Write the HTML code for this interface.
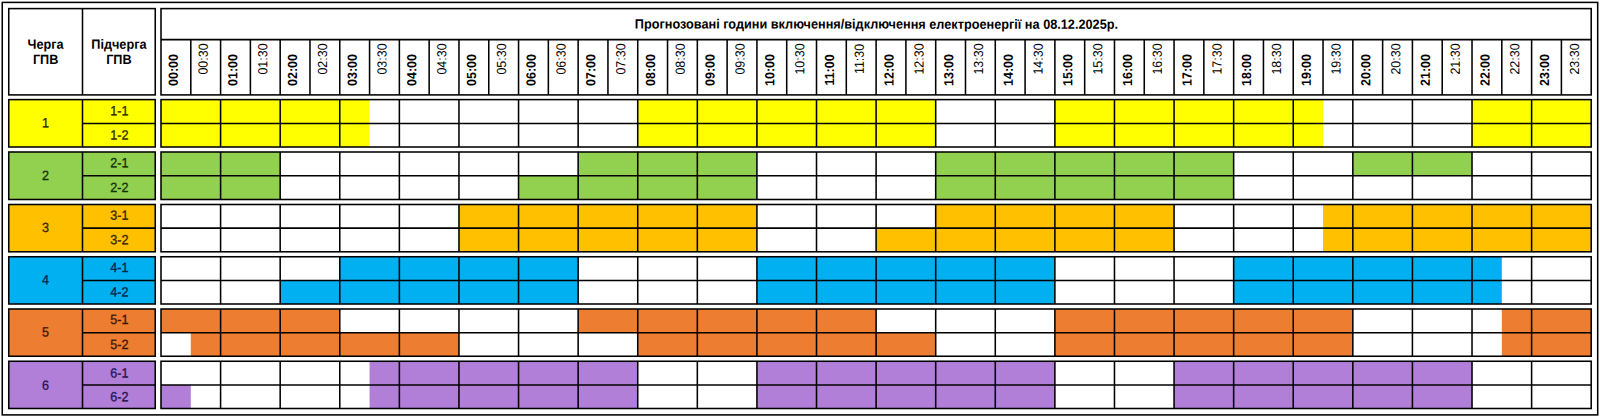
<!DOCTYPE html><html><head><meta charset="utf-8"><title>ГПВ</title>
<style>html,body{margin:0;padding:0;background:#fff;overflow:hidden}svg{display:block}text{font-family:"Liberation Sans",Arial,sans-serif;font-size:13.33px;fill:#000}.b{font-weight:bold}.g{fill:#000}.r{font-size:13.2px}.n{stroke:#000;stroke-width:.3px}</style></head><body>
<svg width="1600" height="420" viewBox="0 0 1600 420">
<rect x="0" y="0" width="1600" height="420" fill="#fff"/>
<rect x="2.25" y="2.40" width="1595.45" height="412.50" fill="none" stroke="#000" stroke-width="1.55"/>
<rect x="8.75" y="8.60" width="146.50" height="86.30" fill="#fff" stroke="#000" stroke-width="1.55"/>
<line x1="82.50" y1="8.60" x2="82.50" y2="94.90" stroke="#000" stroke-width="1.55"/>
<text transform="translate(45.62 48.70) rotate(0.05) scale(0.953 1)" text-anchor="middle" class="b">Черга</text>
<text transform="translate(45.62 64.00) rotate(0.05) scale(0.953 1)" text-anchor="middle" class="b">ГПВ</text>
<text transform="translate(118.88 48.70) rotate(0.05) scale(0.953 1)" text-anchor="middle" class="b">Підчерга</text>
<text transform="translate(118.88 64.00) rotate(0.05) scale(0.953 1)" text-anchor="middle" class="b">ГПВ</text>
<rect x="161.00" y="8.60" width="1430.20" height="86.30" fill="#fff" stroke="#000" stroke-width="1.55"/>
<line x1="161.00" y1="39.60" x2="1591.20" y2="39.60" stroke="#000" stroke-width="1.55"/>
<line x1="190.80" y1="39.60" x2="190.80" y2="94.90" stroke="#000" stroke-width="1.55"/>
<line x1="220.59" y1="39.60" x2="220.59" y2="94.90" stroke="#000" stroke-width="1.55"/>
<line x1="250.39" y1="39.60" x2="250.39" y2="94.90" stroke="#000" stroke-width="1.55"/>
<line x1="280.18" y1="39.60" x2="280.18" y2="94.90" stroke="#000" stroke-width="1.55"/>
<line x1="309.98" y1="39.60" x2="309.98" y2="94.90" stroke="#000" stroke-width="1.55"/>
<line x1="339.77" y1="39.60" x2="339.77" y2="94.90" stroke="#000" stroke-width="1.55"/>
<line x1="369.57" y1="39.60" x2="369.57" y2="94.90" stroke="#000" stroke-width="1.55"/>
<line x1="399.37" y1="39.60" x2="399.37" y2="94.90" stroke="#000" stroke-width="1.55"/>
<line x1="429.16" y1="39.60" x2="429.16" y2="94.90" stroke="#000" stroke-width="1.55"/>
<line x1="458.96" y1="39.60" x2="458.96" y2="94.90" stroke="#000" stroke-width="1.55"/>
<line x1="488.75" y1="39.60" x2="488.75" y2="94.90" stroke="#000" stroke-width="1.55"/>
<line x1="518.55" y1="39.60" x2="518.55" y2="94.90" stroke="#000" stroke-width="1.55"/>
<line x1="548.35" y1="39.60" x2="548.35" y2="94.90" stroke="#000" stroke-width="1.55"/>
<line x1="578.14" y1="39.60" x2="578.14" y2="94.90" stroke="#000" stroke-width="1.55"/>
<line x1="607.94" y1="39.60" x2="607.94" y2="94.90" stroke="#000" stroke-width="1.55"/>
<line x1="637.73" y1="39.60" x2="637.73" y2="94.90" stroke="#000" stroke-width="1.55"/>
<line x1="667.53" y1="39.60" x2="667.53" y2="94.90" stroke="#000" stroke-width="1.55"/>
<line x1="697.33" y1="39.60" x2="697.33" y2="94.90" stroke="#000" stroke-width="1.55"/>
<line x1="727.12" y1="39.60" x2="727.12" y2="94.90" stroke="#000" stroke-width="1.55"/>
<line x1="756.92" y1="39.60" x2="756.92" y2="94.90" stroke="#000" stroke-width="1.55"/>
<line x1="786.71" y1="39.60" x2="786.71" y2="94.90" stroke="#000" stroke-width="1.55"/>
<line x1="816.51" y1="39.60" x2="816.51" y2="94.90" stroke="#000" stroke-width="1.55"/>
<line x1="846.30" y1="39.60" x2="846.30" y2="94.90" stroke="#000" stroke-width="1.55"/>
<line x1="876.10" y1="39.60" x2="876.10" y2="94.90" stroke="#000" stroke-width="1.55"/>
<line x1="905.90" y1="39.60" x2="905.90" y2="94.90" stroke="#000" stroke-width="1.55"/>
<line x1="935.69" y1="39.60" x2="935.69" y2="94.90" stroke="#000" stroke-width="1.55"/>
<line x1="965.49" y1="39.60" x2="965.49" y2="94.90" stroke="#000" stroke-width="1.55"/>
<line x1="995.28" y1="39.60" x2="995.28" y2="94.90" stroke="#000" stroke-width="1.55"/>
<line x1="1025.08" y1="39.60" x2="1025.08" y2="94.90" stroke="#000" stroke-width="1.55"/>
<line x1="1054.88" y1="39.60" x2="1054.88" y2="94.90" stroke="#000" stroke-width="1.55"/>
<line x1="1084.67" y1="39.60" x2="1084.67" y2="94.90" stroke="#000" stroke-width="1.55"/>
<line x1="1114.47" y1="39.60" x2="1114.47" y2="94.90" stroke="#000" stroke-width="1.55"/>
<line x1="1144.26" y1="39.60" x2="1144.26" y2="94.90" stroke="#000" stroke-width="1.55"/>
<line x1="1174.06" y1="39.60" x2="1174.06" y2="94.90" stroke="#000" stroke-width="1.55"/>
<line x1="1203.85" y1="39.60" x2="1203.85" y2="94.90" stroke="#000" stroke-width="1.55"/>
<line x1="1233.65" y1="39.60" x2="1233.65" y2="94.90" stroke="#000" stroke-width="1.55"/>
<line x1="1263.45" y1="39.60" x2="1263.45" y2="94.90" stroke="#000" stroke-width="1.55"/>
<line x1="1293.24" y1="39.60" x2="1293.24" y2="94.90" stroke="#000" stroke-width="1.55"/>
<line x1="1323.04" y1="39.60" x2="1323.04" y2="94.90" stroke="#000" stroke-width="1.55"/>
<line x1="1352.83" y1="39.60" x2="1352.83" y2="94.90" stroke="#000" stroke-width="1.55"/>
<line x1="1382.63" y1="39.60" x2="1382.63" y2="94.90" stroke="#000" stroke-width="1.55"/>
<line x1="1412.42" y1="39.60" x2="1412.42" y2="94.90" stroke="#000" stroke-width="1.55"/>
<line x1="1442.22" y1="39.60" x2="1442.22" y2="94.90" stroke="#000" stroke-width="1.55"/>
<line x1="1472.02" y1="39.60" x2="1472.02" y2="94.90" stroke="#000" stroke-width="1.55"/>
<line x1="1501.81" y1="39.60" x2="1501.81" y2="94.90" stroke="#000" stroke-width="1.55"/>
<line x1="1531.61" y1="39.60" x2="1531.61" y2="94.90" stroke="#000" stroke-width="1.55"/>
<line x1="1561.40" y1="39.60" x2="1561.40" y2="94.90" stroke="#000" stroke-width="1.55"/>
<text transform="translate(876.40 28.60) rotate(0.05) scale(0.953 1)" text-anchor="middle" class="b">Прогнозовані години включення/відключення електроенергії на 08.12.2025р.</text>
<text transform="translate(177.70 70.00) rotate(-89.95) scale(0.943 1)" text-anchor="middle" class="b r">00:00</text>
<text transform="translate(207.63 59.00) rotate(-89.95) scale(0.943 1)" text-anchor="middle" class="g r">00:30</text>
<text transform="translate(237.35 70.00) rotate(-89.95) scale(0.943 1)" text-anchor="middle" class="b r">01:00</text>
<text transform="translate(267.28 59.00) rotate(-89.95) scale(0.943 1)" text-anchor="middle" class="g r">01:30</text>
<text transform="translate(297.01 70.00) rotate(-89.95) scale(0.943 1)" text-anchor="middle" class="b r">02:00</text>
<text transform="translate(326.93 59.00) rotate(-89.95) scale(0.943 1)" text-anchor="middle" class="g r">02:30</text>
<text transform="translate(356.66 70.00) rotate(-89.95) scale(0.943 1)" text-anchor="middle" class="b r">03:00</text>
<text transform="translate(386.59 59.00) rotate(-89.95) scale(0.943 1)" text-anchor="middle" class="g r">03:30</text>
<text transform="translate(416.31 70.00) rotate(-89.95) scale(0.943 1)" text-anchor="middle" class="b r">04:00</text>
<text transform="translate(446.24 59.00) rotate(-89.95) scale(0.943 1)" text-anchor="middle" class="g r">04:30</text>
<text transform="translate(475.97 70.00) rotate(-89.95) scale(0.943 1)" text-anchor="middle" class="b r">05:00</text>
<text transform="translate(505.90 59.00) rotate(-89.95) scale(0.943 1)" text-anchor="middle" class="g r">05:30</text>
<text transform="translate(535.62 70.00) rotate(-89.95) scale(0.943 1)" text-anchor="middle" class="b r">06:00</text>
<text transform="translate(565.55 59.00) rotate(-89.95) scale(0.943 1)" text-anchor="middle" class="g r">06:30</text>
<text transform="translate(595.28 70.00) rotate(-89.95) scale(0.943 1)" text-anchor="middle" class="b r">07:00</text>
<text transform="translate(625.20 59.00) rotate(-89.95) scale(0.943 1)" text-anchor="middle" class="g r">07:30</text>
<text transform="translate(654.93 70.00) rotate(-89.95) scale(0.943 1)" text-anchor="middle" class="b r">08:00</text>
<text transform="translate(684.86 59.00) rotate(-89.95) scale(0.943 1)" text-anchor="middle" class="g r">08:30</text>
<text transform="translate(714.58 70.00) rotate(-89.95) scale(0.943 1)" text-anchor="middle" class="b r">09:00</text>
<text transform="translate(744.51 59.00) rotate(-89.95) scale(0.943 1)" text-anchor="middle" class="g r">09:30</text>
<text transform="translate(774.24 70.00) rotate(-89.95) scale(0.943 1)" text-anchor="middle" class="b r">10:00</text>
<text transform="translate(804.16 59.00) rotate(-89.95) scale(0.943 1)" text-anchor="middle" class="g r">10:30</text>
<text transform="translate(833.89 70.00) rotate(-89.95) scale(0.943 1)" text-anchor="middle" class="b r">11:00</text>
<text transform="translate(863.82 59.00) rotate(-89.95) scale(0.943 1)" text-anchor="middle" class="g r">11:30</text>
<text transform="translate(893.54 70.00) rotate(-89.95) scale(0.943 1)" text-anchor="middle" class="b r">12:00</text>
<text transform="translate(923.45 59.00) rotate(-89.95) scale(0.943 1)" text-anchor="middle" class="g r">12:30</text>
<text transform="translate(953.14 70.00) rotate(-89.95) scale(0.943 1)" text-anchor="middle" class="b r">13:00</text>
<text transform="translate(983.04 59.00) rotate(-89.95) scale(0.943 1)" text-anchor="middle" class="g r">13:30</text>
<text transform="translate(1012.73 70.00) rotate(-89.95) scale(0.943 1)" text-anchor="middle" class="b r">14:00</text>
<text transform="translate(1042.63 59.00) rotate(-89.95) scale(0.943 1)" text-anchor="middle" class="g r">14:30</text>
<text transform="translate(1072.33 70.00) rotate(-89.95) scale(0.943 1)" text-anchor="middle" class="b r">15:00</text>
<text transform="translate(1102.22 59.00) rotate(-89.95) scale(0.943 1)" text-anchor="middle" class="g r">15:30</text>
<text transform="translate(1131.92 70.00) rotate(-89.95) scale(0.943 1)" text-anchor="middle" class="b r">16:00</text>
<text transform="translate(1161.81 59.00) rotate(-89.95) scale(0.943 1)" text-anchor="middle" class="g r">16:30</text>
<text transform="translate(1191.51 70.00) rotate(-89.95) scale(0.943 1)" text-anchor="middle" class="b r">17:00</text>
<text transform="translate(1221.40 59.00) rotate(-89.95) scale(0.943 1)" text-anchor="middle" class="g r">17:30</text>
<text transform="translate(1251.10 70.00) rotate(-89.95) scale(0.943 1)" text-anchor="middle" class="b r">18:00</text>
<text transform="translate(1281.00 59.00) rotate(-89.95) scale(0.943 1)" text-anchor="middle" class="g r">18:30</text>
<text transform="translate(1310.69 70.00) rotate(-89.95) scale(0.943 1)" text-anchor="middle" class="b r">19:00</text>
<text transform="translate(1340.59 59.00) rotate(-89.95) scale(0.943 1)" text-anchor="middle" class="g r">19:30</text>
<text transform="translate(1370.28 70.00) rotate(-89.95) scale(0.943 1)" text-anchor="middle" class="b r">20:00</text>
<text transform="translate(1400.18 59.00) rotate(-89.95) scale(0.943 1)" text-anchor="middle" class="g r">20:30</text>
<text transform="translate(1429.88 70.00) rotate(-89.95) scale(0.943 1)" text-anchor="middle" class="b r">21:00</text>
<text transform="translate(1459.77 59.00) rotate(-89.95) scale(0.943 1)" text-anchor="middle" class="g r">21:30</text>
<text transform="translate(1489.47 70.00) rotate(-89.95) scale(0.943 1)" text-anchor="middle" class="b r">22:00</text>
<text transform="translate(1519.36 59.00) rotate(-89.95) scale(0.943 1)" text-anchor="middle" class="g r">22:30</text>
<text transform="translate(1549.06 70.00) rotate(-89.95) scale(0.943 1)" text-anchor="middle" class="b r">23:00</text>
<text transform="translate(1578.95 59.00) rotate(-89.95) scale(0.943 1)" text-anchor="middle" class="g r">23:30</text>
<rect x="8.75" y="99.60" width="146.50" height="47.40" fill="#FFFF00" stroke="#000" stroke-width="1.55"/>
<line x1="82.50" y1="99.60" x2="82.50" y2="147.00" stroke="#000" stroke-width="1.55"/>
<line x1="82.50" y1="123.50" x2="155.25" y2="123.50" stroke="#000" stroke-width="1.55"/>
<text transform="translate(45.62 127.25) rotate(0.05) scale(0.945 1)" text-anchor="middle" class="n" style="fill:#2e2c00;stroke:#2e2c00">1</text>
<text transform="translate(119.28 115.25) rotate(0.05) scale(0.945 1)" text-anchor="middle" class="n" style="fill:#2e2c00;stroke:#2e2c00">1-1</text>
<text transform="translate(119.28 139.40) rotate(0.05) scale(0.945 1)" text-anchor="middle" class="n" style="fill:#2e2c00;stroke:#2e2c00">1-2</text>
<rect x="161.00" y="99.60" width="208.57" height="23.90" fill="#FFFF00"/>
<rect x="637.73" y="99.60" width="297.96" height="23.90" fill="#FFFF00"/>
<rect x="1054.88" y="99.60" width="268.16" height="23.90" fill="#FFFF00"/>
<rect x="1472.02" y="99.60" width="119.18" height="23.90" fill="#FFFF00"/>
<rect x="161.00" y="123.50" width="208.57" height="23.50" fill="#FFFF00"/>
<rect x="637.73" y="123.50" width="297.96" height="23.50" fill="#FFFF00"/>
<rect x="1054.88" y="123.50" width="268.16" height="23.50" fill="#FFFF00"/>
<rect x="1472.02" y="123.50" width="119.18" height="23.50" fill="#FFFF00"/>
<rect x="161.00" y="99.60" width="1430.20" height="47.40" fill="none" stroke="#000" stroke-width="1.55"/>
<line x1="161.00" y1="123.50" x2="1591.20" y2="123.50" stroke="#000" stroke-width="1.55"/>
<line x1="220.59" y1="99.60" x2="220.59" y2="147.00" stroke="#000" stroke-width="1.55"/>
<line x1="280.18" y1="99.60" x2="280.18" y2="147.00" stroke="#000" stroke-width="1.55"/>
<line x1="339.77" y1="99.60" x2="339.77" y2="147.00" stroke="#000" stroke-width="1.55"/>
<line x1="399.37" y1="99.60" x2="399.37" y2="147.00" stroke="#000" stroke-width="1.55"/>
<line x1="458.96" y1="99.60" x2="458.96" y2="147.00" stroke="#000" stroke-width="1.55"/>
<line x1="518.55" y1="99.60" x2="518.55" y2="147.00" stroke="#000" stroke-width="1.55"/>
<line x1="578.14" y1="99.60" x2="578.14" y2="147.00" stroke="#000" stroke-width="1.55"/>
<line x1="637.73" y1="99.60" x2="637.73" y2="147.00" stroke="#000" stroke-width="1.55"/>
<line x1="697.33" y1="99.60" x2="697.33" y2="147.00" stroke="#000" stroke-width="1.55"/>
<line x1="756.92" y1="99.60" x2="756.92" y2="147.00" stroke="#000" stroke-width="1.55"/>
<line x1="816.51" y1="99.60" x2="816.51" y2="147.00" stroke="#000" stroke-width="1.55"/>
<line x1="876.10" y1="99.60" x2="876.10" y2="147.00" stroke="#000" stroke-width="1.55"/>
<line x1="935.69" y1="99.60" x2="935.69" y2="147.00" stroke="#000" stroke-width="1.55"/>
<line x1="995.28" y1="99.60" x2="995.28" y2="147.00" stroke="#000" stroke-width="1.55"/>
<line x1="1054.88" y1="99.60" x2="1054.88" y2="147.00" stroke="#000" stroke-width="1.55"/>
<line x1="1114.47" y1="99.60" x2="1114.47" y2="147.00" stroke="#000" stroke-width="1.55"/>
<line x1="1174.06" y1="99.60" x2="1174.06" y2="147.00" stroke="#000" stroke-width="1.55"/>
<line x1="1233.65" y1="99.60" x2="1233.65" y2="147.00" stroke="#000" stroke-width="1.55"/>
<line x1="1293.24" y1="99.60" x2="1293.24" y2="147.00" stroke="#000" stroke-width="1.55"/>
<line x1="1352.83" y1="99.60" x2="1352.83" y2="147.00" stroke="#000" stroke-width="1.55"/>
<line x1="1412.42" y1="99.60" x2="1412.42" y2="147.00" stroke="#000" stroke-width="1.55"/>
<line x1="1472.02" y1="99.60" x2="1472.02" y2="147.00" stroke="#000" stroke-width="1.55"/>
<line x1="1531.61" y1="99.60" x2="1531.61" y2="147.00" stroke="#000" stroke-width="1.55"/>
<rect x="8.75" y="152.00" width="146.50" height="47.50" fill="#92D050" stroke="#000" stroke-width="1.55"/>
<line x1="82.50" y1="152.00" x2="82.50" y2="199.50" stroke="#000" stroke-width="1.55"/>
<line x1="82.50" y1="175.75" x2="155.25" y2="175.75" stroke="#000" stroke-width="1.55"/>
<text transform="translate(45.62 180.00) rotate(0.05) scale(0.945 1)" text-anchor="middle" class="n" style="fill:#12300a;stroke:#12300a">2</text>
<text transform="translate(119.28 167.15) rotate(0.05) scale(0.945 1)" text-anchor="middle" class="n" style="fill:#12300a;stroke:#12300a">2-1</text>
<text transform="translate(119.28 192.00) rotate(0.05) scale(0.945 1)" text-anchor="middle" class="n" style="fill:#12300a;stroke:#12300a">2-2</text>
<rect x="161.00" y="152.00" width="119.18" height="23.75" fill="#92D050"/>
<rect x="578.14" y="152.00" width="178.78" height="23.75" fill="#92D050"/>
<rect x="935.69" y="152.00" width="297.96" height="23.75" fill="#92D050"/>
<rect x="1352.83" y="152.00" width="119.18" height="23.75" fill="#92D050"/>
<rect x="161.00" y="175.75" width="119.18" height="23.75" fill="#92D050"/>
<rect x="518.55" y="175.75" width="238.37" height="23.75" fill="#92D050"/>
<rect x="935.69" y="175.75" width="297.96" height="23.75" fill="#92D050"/>
<rect x="161.00" y="152.00" width="1430.20" height="47.50" fill="none" stroke="#000" stroke-width="1.55"/>
<line x1="161.00" y1="175.75" x2="1591.20" y2="175.75" stroke="#000" stroke-width="1.55"/>
<line x1="220.59" y1="152.00" x2="220.59" y2="199.50" stroke="#000" stroke-width="1.55"/>
<line x1="280.18" y1="152.00" x2="280.18" y2="199.50" stroke="#000" stroke-width="1.55"/>
<line x1="339.77" y1="152.00" x2="339.77" y2="199.50" stroke="#000" stroke-width="1.55"/>
<line x1="399.37" y1="152.00" x2="399.37" y2="199.50" stroke="#000" stroke-width="1.55"/>
<line x1="458.96" y1="152.00" x2="458.96" y2="199.50" stroke="#000" stroke-width="1.55"/>
<line x1="518.55" y1="152.00" x2="518.55" y2="199.50" stroke="#000" stroke-width="1.55"/>
<line x1="578.14" y1="152.00" x2="578.14" y2="199.50" stroke="#000" stroke-width="1.55"/>
<line x1="637.73" y1="152.00" x2="637.73" y2="199.50" stroke="#000" stroke-width="1.55"/>
<line x1="697.33" y1="152.00" x2="697.33" y2="199.50" stroke="#000" stroke-width="1.55"/>
<line x1="756.92" y1="152.00" x2="756.92" y2="199.50" stroke="#000" stroke-width="1.55"/>
<line x1="816.51" y1="152.00" x2="816.51" y2="199.50" stroke="#000" stroke-width="1.55"/>
<line x1="876.10" y1="152.00" x2="876.10" y2="199.50" stroke="#000" stroke-width="1.55"/>
<line x1="935.69" y1="152.00" x2="935.69" y2="199.50" stroke="#000" stroke-width="1.55"/>
<line x1="995.28" y1="152.00" x2="995.28" y2="199.50" stroke="#000" stroke-width="1.55"/>
<line x1="1054.88" y1="152.00" x2="1054.88" y2="199.50" stroke="#000" stroke-width="1.55"/>
<line x1="1114.47" y1="152.00" x2="1114.47" y2="199.50" stroke="#000" stroke-width="1.55"/>
<line x1="1174.06" y1="152.00" x2="1174.06" y2="199.50" stroke="#000" stroke-width="1.55"/>
<line x1="1233.65" y1="152.00" x2="1233.65" y2="199.50" stroke="#000" stroke-width="1.55"/>
<line x1="1293.24" y1="152.00" x2="1293.24" y2="199.50" stroke="#000" stroke-width="1.55"/>
<line x1="1352.83" y1="152.00" x2="1352.83" y2="199.50" stroke="#000" stroke-width="1.55"/>
<line x1="1412.42" y1="152.00" x2="1412.42" y2="199.50" stroke="#000" stroke-width="1.55"/>
<line x1="1472.02" y1="152.00" x2="1472.02" y2="199.50" stroke="#000" stroke-width="1.55"/>
<line x1="1531.61" y1="152.00" x2="1531.61" y2="199.50" stroke="#000" stroke-width="1.55"/>
<rect x="8.75" y="204.50" width="146.50" height="47.30" fill="#FFC000" stroke="#000" stroke-width="1.55"/>
<line x1="82.50" y1="204.50" x2="82.50" y2="251.80" stroke="#000" stroke-width="1.55"/>
<line x1="82.50" y1="228.10" x2="155.25" y2="228.10" stroke="#000" stroke-width="1.55"/>
<text transform="translate(45.62 232.10) rotate(0.05) scale(0.945 1)" text-anchor="middle" class="n" style="fill:#3a2400;stroke:#3a2400">3</text>
<text transform="translate(119.28 219.65) rotate(0.05) scale(0.945 1)" text-anchor="middle" class="n" style="fill:#3a2400;stroke:#3a2400">3-1</text>
<text transform="translate(119.28 244.15) rotate(0.05) scale(0.945 1)" text-anchor="middle" class="n" style="fill:#3a2400;stroke:#3a2400">3-2</text>
<rect x="458.96" y="204.50" width="297.96" height="23.60" fill="#FFC000"/>
<rect x="935.69" y="204.50" width="238.37" height="23.60" fill="#FFC000"/>
<rect x="1323.04" y="204.50" width="268.16" height="23.60" fill="#FFC000"/>
<rect x="458.96" y="228.10" width="297.96" height="23.70" fill="#FFC000"/>
<rect x="876.10" y="228.10" width="297.96" height="23.70" fill="#FFC000"/>
<rect x="1323.04" y="228.10" width="268.16" height="23.70" fill="#FFC000"/>
<rect x="161.00" y="204.50" width="1430.20" height="47.30" fill="none" stroke="#000" stroke-width="1.55"/>
<line x1="161.00" y1="228.10" x2="1591.20" y2="228.10" stroke="#000" stroke-width="1.55"/>
<line x1="220.59" y1="204.50" x2="220.59" y2="251.80" stroke="#000" stroke-width="1.55"/>
<line x1="280.18" y1="204.50" x2="280.18" y2="251.80" stroke="#000" stroke-width="1.55"/>
<line x1="339.77" y1="204.50" x2="339.77" y2="251.80" stroke="#000" stroke-width="1.55"/>
<line x1="399.37" y1="204.50" x2="399.37" y2="251.80" stroke="#000" stroke-width="1.55"/>
<line x1="458.96" y1="204.50" x2="458.96" y2="251.80" stroke="#000" stroke-width="1.55"/>
<line x1="518.55" y1="204.50" x2="518.55" y2="251.80" stroke="#000" stroke-width="1.55"/>
<line x1="578.14" y1="204.50" x2="578.14" y2="251.80" stroke="#000" stroke-width="1.55"/>
<line x1="637.73" y1="204.50" x2="637.73" y2="251.80" stroke="#000" stroke-width="1.55"/>
<line x1="697.33" y1="204.50" x2="697.33" y2="251.80" stroke="#000" stroke-width="1.55"/>
<line x1="756.92" y1="204.50" x2="756.92" y2="251.80" stroke="#000" stroke-width="1.55"/>
<line x1="816.51" y1="204.50" x2="816.51" y2="251.80" stroke="#000" stroke-width="1.55"/>
<line x1="876.10" y1="204.50" x2="876.10" y2="251.80" stroke="#000" stroke-width="1.55"/>
<line x1="935.69" y1="204.50" x2="935.69" y2="251.80" stroke="#000" stroke-width="1.55"/>
<line x1="995.28" y1="204.50" x2="995.28" y2="251.80" stroke="#000" stroke-width="1.55"/>
<line x1="1054.88" y1="204.50" x2="1054.88" y2="251.80" stroke="#000" stroke-width="1.55"/>
<line x1="1114.47" y1="204.50" x2="1114.47" y2="251.80" stroke="#000" stroke-width="1.55"/>
<line x1="1174.06" y1="204.50" x2="1174.06" y2="251.80" stroke="#000" stroke-width="1.55"/>
<line x1="1233.65" y1="204.50" x2="1233.65" y2="251.80" stroke="#000" stroke-width="1.55"/>
<line x1="1293.24" y1="204.50" x2="1293.24" y2="251.80" stroke="#000" stroke-width="1.55"/>
<line x1="1352.83" y1="204.50" x2="1352.83" y2="251.80" stroke="#000" stroke-width="1.55"/>
<line x1="1412.42" y1="204.50" x2="1412.42" y2="251.80" stroke="#000" stroke-width="1.55"/>
<line x1="1472.02" y1="204.50" x2="1472.02" y2="251.80" stroke="#000" stroke-width="1.55"/>
<line x1="1531.61" y1="204.50" x2="1531.61" y2="251.80" stroke="#000" stroke-width="1.55"/>
<rect x="8.75" y="256.75" width="146.50" height="47.25" fill="#00B0F0" stroke="#000" stroke-width="1.55"/>
<line x1="82.50" y1="256.75" x2="82.50" y2="304.00" stroke="#000" stroke-width="1.55"/>
<line x1="82.50" y1="280.50" x2="155.25" y2="280.50" stroke="#000" stroke-width="1.55"/>
<text transform="translate(45.62 284.25) rotate(0.05) scale(0.945 1)" text-anchor="middle" class="n" style="fill:#06264a;stroke:#06264a">4</text>
<text transform="translate(119.28 272.00) rotate(0.05) scale(0.945 1)" text-anchor="middle" class="n" style="fill:#06264a;stroke:#06264a">4-1</text>
<text transform="translate(119.28 296.50) rotate(0.05) scale(0.945 1)" text-anchor="middle" class="n" style="fill:#06264a;stroke:#06264a">4-2</text>
<rect x="339.77" y="256.75" width="238.37" height="23.75" fill="#00B0F0"/>
<rect x="756.92" y="256.75" width="297.96" height="23.75" fill="#00B0F0"/>
<rect x="1233.65" y="256.75" width="268.16" height="23.75" fill="#00B0F0"/>
<rect x="280.18" y="280.50" width="297.96" height="23.50" fill="#00B0F0"/>
<rect x="756.92" y="280.50" width="297.96" height="23.50" fill="#00B0F0"/>
<rect x="1233.65" y="280.50" width="268.16" height="23.50" fill="#00B0F0"/>
<rect x="161.00" y="256.75" width="1430.20" height="47.25" fill="none" stroke="#000" stroke-width="1.55"/>
<line x1="161.00" y1="280.50" x2="1591.20" y2="280.50" stroke="#000" stroke-width="1.55"/>
<line x1="220.59" y1="256.75" x2="220.59" y2="304.00" stroke="#000" stroke-width="1.55"/>
<line x1="280.18" y1="256.75" x2="280.18" y2="304.00" stroke="#000" stroke-width="1.55"/>
<line x1="339.77" y1="256.75" x2="339.77" y2="304.00" stroke="#000" stroke-width="1.55"/>
<line x1="399.37" y1="256.75" x2="399.37" y2="304.00" stroke="#000" stroke-width="1.55"/>
<line x1="458.96" y1="256.75" x2="458.96" y2="304.00" stroke="#000" stroke-width="1.55"/>
<line x1="518.55" y1="256.75" x2="518.55" y2="304.00" stroke="#000" stroke-width="1.55"/>
<line x1="578.14" y1="256.75" x2="578.14" y2="304.00" stroke="#000" stroke-width="1.55"/>
<line x1="637.73" y1="256.75" x2="637.73" y2="304.00" stroke="#000" stroke-width="1.55"/>
<line x1="697.33" y1="256.75" x2="697.33" y2="304.00" stroke="#000" stroke-width="1.55"/>
<line x1="756.92" y1="256.75" x2="756.92" y2="304.00" stroke="#000" stroke-width="1.55"/>
<line x1="816.51" y1="256.75" x2="816.51" y2="304.00" stroke="#000" stroke-width="1.55"/>
<line x1="876.10" y1="256.75" x2="876.10" y2="304.00" stroke="#000" stroke-width="1.55"/>
<line x1="935.69" y1="256.75" x2="935.69" y2="304.00" stroke="#000" stroke-width="1.55"/>
<line x1="995.28" y1="256.75" x2="995.28" y2="304.00" stroke="#000" stroke-width="1.55"/>
<line x1="1054.88" y1="256.75" x2="1054.88" y2="304.00" stroke="#000" stroke-width="1.55"/>
<line x1="1114.47" y1="256.75" x2="1114.47" y2="304.00" stroke="#000" stroke-width="1.55"/>
<line x1="1174.06" y1="256.75" x2="1174.06" y2="304.00" stroke="#000" stroke-width="1.55"/>
<line x1="1233.65" y1="256.75" x2="1233.65" y2="304.00" stroke="#000" stroke-width="1.55"/>
<line x1="1293.24" y1="256.75" x2="1293.24" y2="304.00" stroke="#000" stroke-width="1.55"/>
<line x1="1352.83" y1="256.75" x2="1352.83" y2="304.00" stroke="#000" stroke-width="1.55"/>
<line x1="1412.42" y1="256.75" x2="1412.42" y2="304.00" stroke="#000" stroke-width="1.55"/>
<line x1="1472.02" y1="256.75" x2="1472.02" y2="304.00" stroke="#000" stroke-width="1.55"/>
<line x1="1531.61" y1="256.75" x2="1531.61" y2="304.00" stroke="#000" stroke-width="1.55"/>
<rect x="8.75" y="309.00" width="146.50" height="47.25" fill="#ED7D31" stroke="#000" stroke-width="1.55"/>
<line x1="82.50" y1="309.00" x2="82.50" y2="356.25" stroke="#000" stroke-width="1.55"/>
<line x1="82.50" y1="332.70" x2="155.25" y2="332.70" stroke="#000" stroke-width="1.55"/>
<text transform="translate(45.62 336.60) rotate(0.05) scale(0.945 1)" text-anchor="middle" class="n" style="fill:#3c1404;stroke:#3c1404">5</text>
<text transform="translate(119.28 323.90) rotate(0.05) scale(0.945 1)" text-anchor="middle" class="n" style="fill:#3c1404;stroke:#3c1404">5-1</text>
<text transform="translate(119.28 348.90) rotate(0.05) scale(0.945 1)" text-anchor="middle" class="n" style="fill:#3c1404;stroke:#3c1404">5-2</text>
<rect x="161.00" y="309.00" width="178.78" height="23.70" fill="#ED7D31"/>
<rect x="578.14" y="309.00" width="297.96" height="23.70" fill="#ED7D31"/>
<rect x="1054.88" y="309.00" width="297.96" height="23.70" fill="#ED7D31"/>
<rect x="1501.81" y="309.00" width="89.39" height="23.70" fill="#ED7D31"/>
<rect x="190.80" y="332.70" width="268.16" height="23.55" fill="#ED7D31"/>
<rect x="637.73" y="332.70" width="297.96" height="23.55" fill="#ED7D31"/>
<rect x="1054.88" y="332.70" width="297.96" height="23.55" fill="#ED7D31"/>
<rect x="1501.81" y="332.70" width="89.39" height="23.55" fill="#ED7D31"/>
<rect x="161.00" y="309.00" width="1430.20" height="47.25" fill="none" stroke="#000" stroke-width="1.55"/>
<line x1="161.00" y1="332.70" x2="1591.20" y2="332.70" stroke="#000" stroke-width="1.55"/>
<line x1="220.59" y1="309.00" x2="220.59" y2="356.25" stroke="#000" stroke-width="1.55"/>
<line x1="280.18" y1="309.00" x2="280.18" y2="356.25" stroke="#000" stroke-width="1.55"/>
<line x1="339.77" y1="309.00" x2="339.77" y2="356.25" stroke="#000" stroke-width="1.55"/>
<line x1="399.37" y1="309.00" x2="399.37" y2="356.25" stroke="#000" stroke-width="1.55"/>
<line x1="458.96" y1="309.00" x2="458.96" y2="356.25" stroke="#000" stroke-width="1.55"/>
<line x1="518.55" y1="309.00" x2="518.55" y2="356.25" stroke="#000" stroke-width="1.55"/>
<line x1="578.14" y1="309.00" x2="578.14" y2="356.25" stroke="#000" stroke-width="1.55"/>
<line x1="637.73" y1="309.00" x2="637.73" y2="356.25" stroke="#000" stroke-width="1.55"/>
<line x1="697.33" y1="309.00" x2="697.33" y2="356.25" stroke="#000" stroke-width="1.55"/>
<line x1="756.92" y1="309.00" x2="756.92" y2="356.25" stroke="#000" stroke-width="1.55"/>
<line x1="816.51" y1="309.00" x2="816.51" y2="356.25" stroke="#000" stroke-width="1.55"/>
<line x1="876.10" y1="309.00" x2="876.10" y2="356.25" stroke="#000" stroke-width="1.55"/>
<line x1="935.69" y1="309.00" x2="935.69" y2="356.25" stroke="#000" stroke-width="1.55"/>
<line x1="995.28" y1="309.00" x2="995.28" y2="356.25" stroke="#000" stroke-width="1.55"/>
<line x1="1054.88" y1="309.00" x2="1054.88" y2="356.25" stroke="#000" stroke-width="1.55"/>
<line x1="1114.47" y1="309.00" x2="1114.47" y2="356.25" stroke="#000" stroke-width="1.55"/>
<line x1="1174.06" y1="309.00" x2="1174.06" y2="356.25" stroke="#000" stroke-width="1.55"/>
<line x1="1233.65" y1="309.00" x2="1233.65" y2="356.25" stroke="#000" stroke-width="1.55"/>
<line x1="1293.24" y1="309.00" x2="1293.24" y2="356.25" stroke="#000" stroke-width="1.55"/>
<line x1="1352.83" y1="309.00" x2="1352.83" y2="356.25" stroke="#000" stroke-width="1.55"/>
<line x1="1412.42" y1="309.00" x2="1412.42" y2="356.25" stroke="#000" stroke-width="1.55"/>
<line x1="1472.02" y1="309.00" x2="1472.02" y2="356.25" stroke="#000" stroke-width="1.55"/>
<line x1="1531.61" y1="309.00" x2="1531.61" y2="356.25" stroke="#000" stroke-width="1.55"/>
<rect x="8.75" y="361.25" width="146.50" height="47.25" fill="#B17ED8" stroke="#000" stroke-width="1.55"/>
<line x1="82.50" y1="361.25" x2="82.50" y2="408.50" stroke="#000" stroke-width="1.55"/>
<line x1="82.50" y1="384.90" x2="155.25" y2="384.90" stroke="#000" stroke-width="1.55"/>
<text transform="translate(45.62 389.80) rotate(0.05) scale(0.945 1)" text-anchor="middle" class="n" style="fill:#2a1048;stroke:#2a1048">6</text>
<text transform="translate(119.28 377.40) rotate(0.05) scale(0.945 1)" text-anchor="middle" class="n" style="fill:#2a1048;stroke:#2a1048">6-1</text>
<text transform="translate(119.28 401.15) rotate(0.05) scale(0.945 1)" text-anchor="middle" class="n" style="fill:#2a1048;stroke:#2a1048">6-2</text>
<rect x="369.57" y="361.25" width="268.16" height="23.65" fill="#B17ED8"/>
<rect x="756.92" y="361.25" width="297.96" height="23.65" fill="#B17ED8"/>
<rect x="1174.06" y="361.25" width="297.96" height="23.65" fill="#B17ED8"/>
<rect x="161.00" y="384.90" width="29.80" height="23.60" fill="#B17ED8"/>
<rect x="369.57" y="384.90" width="268.16" height="23.60" fill="#B17ED8"/>
<rect x="756.92" y="384.90" width="297.96" height="23.60" fill="#B17ED8"/>
<rect x="1174.06" y="384.90" width="297.96" height="23.60" fill="#B17ED8"/>
<rect x="161.00" y="361.25" width="1430.20" height="47.25" fill="none" stroke="#000" stroke-width="1.55"/>
<line x1="161.00" y1="384.90" x2="1591.20" y2="384.90" stroke="#000" stroke-width="1.55"/>
<line x1="220.59" y1="361.25" x2="220.59" y2="408.50" stroke="#000" stroke-width="1.55"/>
<line x1="280.18" y1="361.25" x2="280.18" y2="408.50" stroke="#000" stroke-width="1.55"/>
<line x1="339.77" y1="361.25" x2="339.77" y2="408.50" stroke="#000" stroke-width="1.55"/>
<line x1="399.37" y1="361.25" x2="399.37" y2="408.50" stroke="#000" stroke-width="1.55"/>
<line x1="458.96" y1="361.25" x2="458.96" y2="408.50" stroke="#000" stroke-width="1.55"/>
<line x1="518.55" y1="361.25" x2="518.55" y2="408.50" stroke="#000" stroke-width="1.55"/>
<line x1="578.14" y1="361.25" x2="578.14" y2="408.50" stroke="#000" stroke-width="1.55"/>
<line x1="637.73" y1="361.25" x2="637.73" y2="408.50" stroke="#000" stroke-width="1.55"/>
<line x1="697.33" y1="361.25" x2="697.33" y2="408.50" stroke="#000" stroke-width="1.55"/>
<line x1="756.92" y1="361.25" x2="756.92" y2="408.50" stroke="#000" stroke-width="1.55"/>
<line x1="816.51" y1="361.25" x2="816.51" y2="408.50" stroke="#000" stroke-width="1.55"/>
<line x1="876.10" y1="361.25" x2="876.10" y2="408.50" stroke="#000" stroke-width="1.55"/>
<line x1="935.69" y1="361.25" x2="935.69" y2="408.50" stroke="#000" stroke-width="1.55"/>
<line x1="995.28" y1="361.25" x2="995.28" y2="408.50" stroke="#000" stroke-width="1.55"/>
<line x1="1054.88" y1="361.25" x2="1054.88" y2="408.50" stroke="#000" stroke-width="1.55"/>
<line x1="1114.47" y1="361.25" x2="1114.47" y2="408.50" stroke="#000" stroke-width="1.55"/>
<line x1="1174.06" y1="361.25" x2="1174.06" y2="408.50" stroke="#000" stroke-width="1.55"/>
<line x1="1233.65" y1="361.25" x2="1233.65" y2="408.50" stroke="#000" stroke-width="1.55"/>
<line x1="1293.24" y1="361.25" x2="1293.24" y2="408.50" stroke="#000" stroke-width="1.55"/>
<line x1="1352.83" y1="361.25" x2="1352.83" y2="408.50" stroke="#000" stroke-width="1.55"/>
<line x1="1412.42" y1="361.25" x2="1412.42" y2="408.50" stroke="#000" stroke-width="1.55"/>
<line x1="1472.02" y1="361.25" x2="1472.02" y2="408.50" stroke="#000" stroke-width="1.55"/>
<line x1="1531.61" y1="361.25" x2="1531.61" y2="408.50" stroke="#000" stroke-width="1.55"/>
</svg></body></html>
